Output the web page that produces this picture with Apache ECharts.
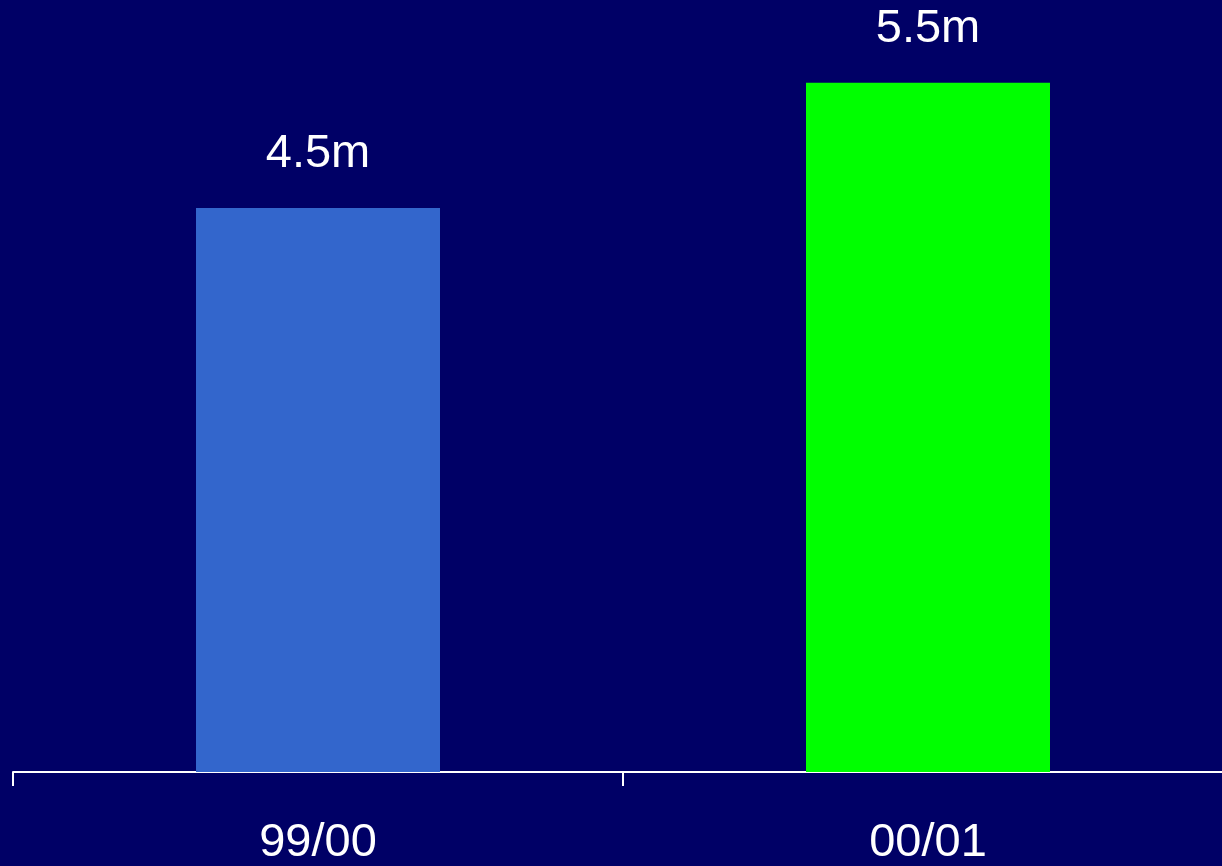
<!DOCTYPE html>
<html>
<head>
<meta charset="utf-8">
<script src="https://cdn.jsdelivr.net/npm/echarts@6/dist/echarts.min.js"></script>
<style>
  html, body { margin: 0; padding: 0; background: #000066; }
  #chart { width: 1222px; height: 866px; }
</style>
</head>
<body>
<div id="chart"></div>
<script>
// Seasons and totals (millions)
const seasons = ['99/00', '00/01'];
const totals = [4.5, 5.5];
const barColors = ['#3366CC', '#00FF00'];

const chart = echarts.init(document.getElementById('chart'));

chart.setOption({
  backgroundColor: '#000066',
  animation: false,
  grid: { left: 13, width: 1220, top: 20, bottom: 94, outerBoundsMode: 'none', containLabel: false },
  xAxis: {
    type: 'category',
    data: seasons,
    axisLine: { lineStyle: { color: '#FFFFFF', width: 2 } },
    axisTick: { show: true, length: 14, lineStyle: { color: '#FFFFFF', width: 2 } },
    axisLabel: {
      color: '#FFFFFF',
      fontFamily: 'Liberation Sans, Arial, sans-serif',
      fontSize: 47,
      margin: 48
    }
  },
  yAxis: {
    type: 'value',
    min: 0,
    max: 6,
    show: false,
    splitLine: { show: false }
  },
  series: [{
    type: 'bar',
    barWidth: 244,
    data: totals.map((v, i) => ({ value: v, itemStyle: { color: barColors[i] } })),
    label: {
      show: true,
      position: 'top',
      distance: 30,
      color: '#FFFFFF',
      fontFamily: 'Liberation Sans, Arial, sans-serif',
      fontSize: 47,
      formatter: p => p.value + 'm'
    }
  }]
});
</script>
</body>
</html>
